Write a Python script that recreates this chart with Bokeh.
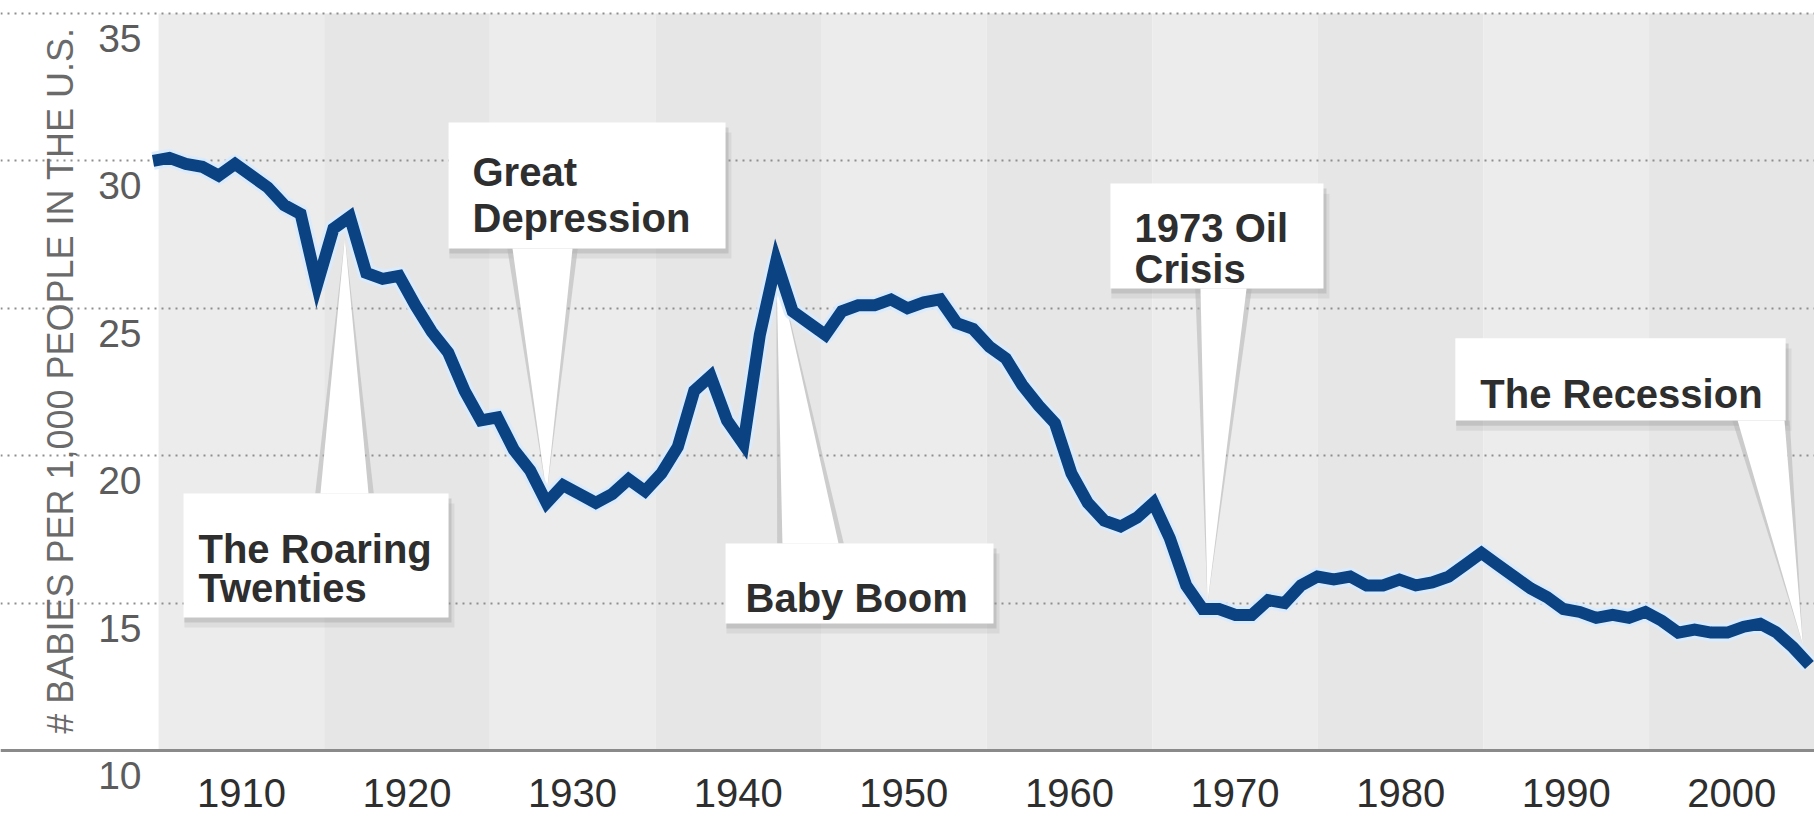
from bokeh.plotting import figure
from bokeh.models import LinearAxis, FixedTicker, Grid, Range1d, Label, ColumnDataSource
from bokeh.core.properties import value
from bokeh.embed import file_html
from bokeh.resources import INLINE

# ------------------------------------------------------------------ data
years = list(range(1909, 2011))
birth_rate = [
    30.0, 30.1, 29.9, 29.8, 29.5, 29.9, 29.5, 29.1, 28.5, 28.2,   # 1909-1918
    25.8, 27.7, 28.1, 26.2, 26.0, 26.1, 25.1, 24.2, 23.5, 22.2,   # 1919-1928
    21.2, 21.3, 20.2, 19.5, 18.4, 19.0, 18.7, 18.4, 18.7, 19.2,   # 1929-1938
    18.8, 19.4, 20.3, 22.2, 22.7, 21.2, 20.4, 24.1, 26.6, 24.9,   # 1939-1948
    24.5, 24.1, 24.9, 25.1, 25.1, 25.3, 25.0, 25.2, 25.3, 24.5,   # 1949-1958
    24.3, 23.7, 23.3, 22.4, 21.7, 21.1, 19.4, 18.4, 17.8, 17.6,   # 1959-1968
    17.9, 18.4, 17.2, 15.6, 14.8, 14.8, 14.6, 14.6, 15.1, 15.0,   # 1969-1978
    15.6, 15.9, 15.8, 15.9, 15.6, 15.6, 15.8, 15.6, 15.7, 15.9,   # 1979-1988
    16.3, 16.7, 16.3, 15.9, 15.5, 15.2, 14.8, 14.7, 14.5, 14.6,   # 1989-1998
    14.5, 14.7, 14.4, 14.0, 14.1, 14.0, 14.0, 14.2, 14.3, 14.0,   # 1999-2008
    13.5, 12.9,                                                   # 2009-2010
]
decade_labels = ["1910", "1920", "1930", "1940", "1950",
                 "1960", "1970", "1980", "1990", "2000"]
y_tick_values = [10, 15, 20, 25, 30, 35]
y_tick_labels = ["10", "15", "20", "25", "30", "35"]
y_title = "# BABIES PER 1,000 PEOPLE IN THE U.S."

callout_text = [["The Roaring", "Twenties"], ["Great", "Depression"], ["Baby Boom"],
                ["1973 Oil", "Crisis"], ["The Recession"]]
callout_year = [1920.7, 1933.0, 1947.0, 1973.3, 2009.6]
callout_value = [27.4, 18.7, 26.6, 15.0, 13.6]

# ------------------------------------------------------------------ layout
X_START, X_END = 1899.70, 2010.31
Y_START, Y_END = 7.558, 35.441
BAND_LEFT0, BAND_W = 1909.34, 10.098
YAXIS_AT = 1908.85
LABEL_DROP = 0.85          # tick labels sit below their gridline
# box geometry: left, right, top, bottom, text x, text baselines, pointer base, side
box_geom = [
    (1910.86, 1927.02, 18.72, 14.51, 1911.77, [16.85, 15.50], (1919.21, 1922.14), "top"),
    (1927.02, 1943.91, 31.30, 27.03, 1928.48, [29.61, 28.05], (1930.92, 1934.58), "bottom"),
    (1943.91, 1960.25, 17.02, 14.31, 1945.13, [15.19], (1947.38, 1950.80), "top"),
    (1967.38, 1980.37, 29.23, 25.67, 1968.85, [27.71, 26.35], (1972.87, 1975.68), "bottom"),
    (1988.41, 2008.55, 23.98, 21.19, 1989.93, [22.11], (2005.62, 2008.48), "bottom"),
]
SH_DX, SH_DY = 0.18, 0.17
EDGE = 0.32

FONT = "Liberation Sans"

p = figure(frame_width=1814, frame_height=822,
           x_range=Range1d(X_START, X_END), y_range=Range1d(Y_START, Y_END),
           output_backend="svg", toolbar_location=None,
           x_axis_location=None, y_axis_location=None,
           min_border_left=0, min_border_right=0, min_border_top=0, min_border_bottom=0,
           background_fill_color="white", border_fill_color="white",
           outline_line_color=None)
p.xgrid.visible = False
p.ygrid.visible = False

# alternating decade bands
n = len(decade_labels)
band_l = [BAND_LEFT0 + i * BAND_W for i in range(n)]
band_r = [BAND_LEFT0 + (i + 1) * BAND_W for i in range(n)]
band_c = ["#ececec" if i % 2 == 0 else "#e6e6e6" for i in range(n)]
p.quad(left=band_l, right=band_r, bottom=[10] * n, top=[35] * n,
       fill_color=band_c, line_color=None, level="image")

# dotted horizontal grid
grid = Grid(dimension=1, ticker=FixedTicker(ticks=[v for v in y_tick_values if v > 10]),
            grid_line_color="#8e8e8e", grid_line_width=2, grid_line_dash="2 5")
p.add_layout(grid)

# ---- callouts
sh_l, sh_r, sh_t, sh_b = [], [], [], []
bx_l, bx_r, bx_t, bx_b = [], [], [], []
gx, gy, wx, wy = [], [], [], []
tx, ty, tt = [], [], []
for k, (l, r, t, b, txx, tys, base, side) in enumerate(box_geom):
    sh_l.append(l + SH_DX * 0.3); sh_r.append(r + SH_DX); sh_t.append(t - SH_DY); sh_b.append(b - SH_DY)
    bx_l.append(l); bx_r.append(r); bx_t.append(t); bx_b.append(b)
    by = t if side == "top" else b
    tipx, tipy = callout_year[k], callout_value[k]
    gx.append([base[0] - EDGE, base[1] + EDGE, tipx]); gy.append([by, by, tipy])
    wx.append([base[0], base[1], tipx]); wy.append([by, by, tipy])
    for line_txt, yy in zip(callout_text[k], tys):
        tx.append(txx); ty.append(yy); tt.append(line_txt)

p.quad(left=sh_l, right=[v + SH_DX for v in sh_r], top=[v - SH_DY for v in sh_t],
       bottom=[v - SH_DY for v in sh_b], fill_color="#9a9a9a", fill_alpha=0.18, line_color=None)
p.quad(left=sh_l, right=sh_r, top=sh_t, bottom=sh_b,
       fill_color="#9a9a9a", fill_alpha=0.35, line_color=None)
p.patches(xs=gx, ys=gy, fill_color="#b5b5b5", fill_alpha=0.55, line_color=None)
p.patches(xs=wx, ys=wy, fill_color="white", line_color=None)
p.quad(left=bx_l, right=bx_r, top=bx_t, bottom=bx_b, fill_color="white", line_color=None)
p.text(x=tx, y=ty, text=tt, text_font=value(FONT), text_font_style="bold",
       text_font_size=value("40px"), text_color="#2e2e2e",
       text_align="left", text_baseline="alphabetic")

# ---- data line with light halo
src = ColumnDataSource(dict(year=years, rate=birth_rate))
p.line("year", "rate", source=src, line_width=18, line_color="#d8ebff", line_alpha=0.9,
       line_join="round")
p.line("year", "rate", source=src, line_width=12, line_color="#0b4282", line_join="miter")

# ---- axes
x_ticks = [round(BAND_LEFT0 + (i + 0.5) * BAND_W, 3) for i in range(n)]
xaxis = LinearAxis(ticker=FixedTicker(ticks=x_ticks),
                   major_label_overrides={t: lab for t, lab in zip(x_ticks, decade_labels)},
                   fixed_location=10,
                   axis_line_color="#8a8a8a", axis_line_width=3,
                   major_tick_line_color=None, minor_tick_line_color=None,
                   major_label_standoff=22,
                   major_label_text_font=FONT, major_label_text_font_size="40px",
                   major_label_text_color="#2e2e2e")
p.add_layout(xaxis, "below")

y_ticks = [round(v - LABEL_DROP, 3) for v in y_tick_values]
yaxis = LinearAxis(ticker=FixedTicker(ticks=y_ticks),
                   major_label_overrides={t: lab for t, lab in zip(y_ticks, y_tick_labels)},
                   fixed_location=YAXIS_AT,
                   axis_line_color=None, major_tick_line_color=None, minor_tick_line_color=None,
                   major_label_standoff=3,
                   major_label_text_font=FONT, major_label_text_font_size="39px",
                   major_label_text_color="#5c5c5c")
p.add_layout(yaxis, "left")

p.add_layout(Label(x=1903.36, y=22.55, text=y_title, angle=90, angle_units="deg",
                   text_align="center", text_baseline="middle",
                   text_font=FONT, text_font_size="36px", text_color="#6a6a6a"))

open("out.html", "w").write(file_html(p, INLINE))
